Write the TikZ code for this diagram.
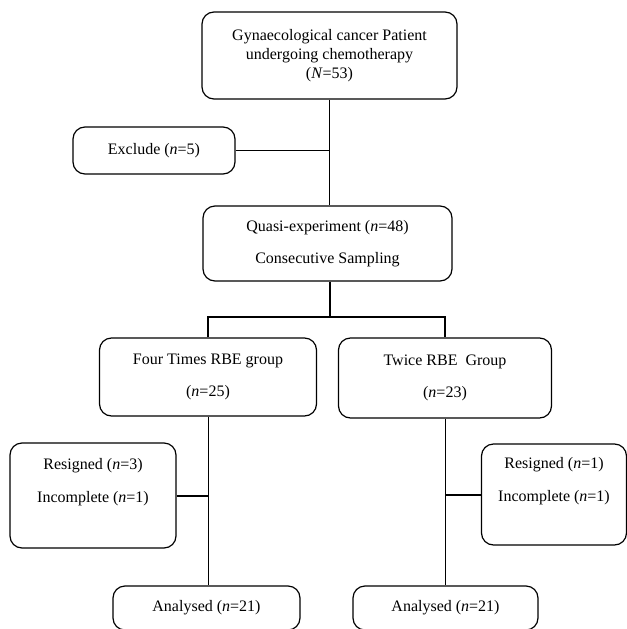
\documentclass[tikz,border=0pt]{standalone}
\usepackage{fontspec}
\setmainfont{Liberation Serif}
\usepackage{tikz}
\usetikzlibrary{positioning,calc}

\begin{document}
\begin{tikzpicture}[
  x=0.75pt, y=-0.75pt,
  box/.style  = {
    rectangle, draw, rounded corners=9pt, line width=0.9pt,
    align=center, inner sep=0pt, font=\fontsize{12}{14.5}\selectfont
  },
  ln/.style   = {line width=0.75pt},
  thk/.style  = {line width=1.5pt}
]
\useasboundingbox (0,0) rectangle (627,629);
\clip (0,0) rectangle (627,629);

% Fila superior: muestra inicial
\node[box, minimum width=255*0.75pt, minimum height=87*0.75pt] (pop) at (329.5,55.5)
  {Gynaecological cancer Patient\\undergoing chemotherapy\\(\textit{N}=53)};
\node[box, minimum width=162*0.75pt, minimum height=47*0.75pt] (excl) at (154,150.5)
  {Exclude (\textit{n}=5)};
\node[box, minimum width=249*0.75pt, minimum height=75*0.75pt] (quasi) at (327.5,243.5)
  {Quasi-experiment (\textit{n}=48)\\[9.5pt]Consecutive Sampling};

% Grupos
\node[box, minimum width=217*0.75pt, minimum height=78*0.75pt] (grpfour) at (208,377)
  {Four Times RBE group\\[9.5pt](\textit{n}=25)};
\node[box, minimum width=213*0.75pt, minimum height=80*0.75pt] (grptwice) at (445,378)
  {Twice RBE\ \ Group\\[9.5pt](\textit{n}=23)};

% Abandonos
\node[box, minimum width=166*0.75pt, minimum height=105*0.75pt] (dropfour) at (93,495.5)
  {Resigned (\textit{n}=3)\\[10pt]Incomplete (\textit{n}=1)\\[3.5pt]\strut};
\node[box, minimum width=145*0.75pt, minimum height=101*0.75pt] (droptwice) at (554,494.5)
  {Resigned (\textit{n}=1)\\[10pt]Incomplete (\textit{n}=1)\\[3.5pt]\strut};

% Analizados
\node[box, minimum width=187*0.75pt, minimum height=44*0.75pt] (anafour) at (206.5,608)
  {Analysed (\textit{n}=21)};
\node[box, minimum width=185*0.75pt, minimum height=44*0.75pt] (anatwice) at (445.5,608)
  {Analysed (\textit{n}=21)};

% Conectores
\coordinate (fork) at (329.5,317);
\draw[ln]  (pop.south) -- (pop.south |- quasi.north);
\draw[ln]  (excl.east) -- (excl.east -| pop.south);
\draw[thk] (pop.south |- quasi.south) -- (fork);
\draw[thk] (grpfour.north) |- (fork) -| (grptwice.north);
\draw[ln]  (grpfour.south) -- (grpfour.south |- anafour.north);
\draw[ln]  (grptwice.south) -- (grptwice.south |- anatwice.north);
\draw[thk] (dropfour.east) -- (dropfour.east -| grpfour.south);
\draw[thk] (droptwice.west) -- (droptwice.west -| grptwice.south);

\end{tikzpicture}
\end{document}
